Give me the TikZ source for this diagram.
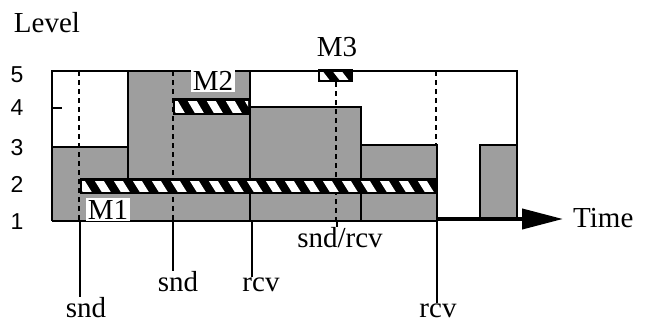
\documentclass[tikz,border=0pt]{standalone}
\usepackage{fontspec}
\setmainfont{Liberation Serif}
\newfontfamily\digfont{Liberation Sans}
\usetikzlibrary{arrows.meta}
\definecolor{stip}{gray}{0.62}
\newcommand{\stripebar}[4]{%
  \fill[black] (#1,#2) rectangle (#3,#4);
  \begin{scope}
    \clip (#1+2,#2+3) rectangle (#3-2,#4-3);
    \foreach \i in {0,...,20}{
      \fill[white] ({#1-6+\i*19},#2) -- ({#1+3+\i*19},#2) -- ({#1+13+\i*19},#4) -- ({#1+4+\i*19},#4) -- cycle;
    }
  \end{scope}}
\begin{document}
\begin{tikzpicture}[x=1pt,y=-1pt,
  outline/.style={line width=1.8pt},
  dashline/.style={line width=1.3pt,dash pattern=on 5pt off 4pt},
  lbl/.style={font=\fontsize{29}{32}\selectfont,inner sep=0pt,anchor=base},
  lev/.style={font=\digfont\fontsize{23}{25}\selectfont,inner sep=0pt,anchor=base},
  stipple/.style={fill=stip}]
\useasboundingbox (0,0) rectangle (648,324);

% shaded regions
\fill[stipple] (52,147) rectangle (128,221);
\fill[stipple] (128,71) rectangle (250,221);
\fill[stipple] (250,107) rectangle (361,221);
\fill[stipple] (361,145) rectangle (437,221);
\fill[stipple] (480,145) rectangle (517,221);

% dashed event lines
\draw[dashline] (79,71) -- (79,221);
\draw[dashline] (173,71) -- (173,221);
\draw[dashline] (336,82) -- (336,221);
\draw[dashline] (436,71) -- (436,145);

% outlines
\draw[outline] (52,221) -- (52,71) -- (517,71) -- (517,221);
\draw[outline] (52,221) -- (437,221);
\draw[outline] (52,147) -- (128,147);
\draw[outline] (52,108) -- (62,108);
\draw[outline] (128,71) -- (128,178);
\draw[outline] (250,71) -- (250,221);
\draw[outline] (250,107) -- (361,107) -- (361,221);
\draw[outline] (361,145) -- (437,145) -- (437,221);
\draw[outline] (480,221) -- (480,145) -- (517,145);

% message bars
\stripebar{80}{178}{437}{194}
\stripebar{173}{98}{250}{115}
\stripebar{318}{69}{353}{82}

% time axis
\coordinate (ax0) at (437,219);
\coordinate (ax1) at (563,219);
\draw[line width=4pt,-{Triangle[length=41pt,width=20pt]}] (ax0) -- (ax1);
\node[lbl,anchor=base west] (time) at (573,227) {Time};

% labels
\node[lbl] (level) at (47,32) {Level};
\node[lev] (l5) at (17,82) {5};
\node[lev] (l4) at (17,115) {4};
\node[lev] (l3) at (17,155) {3};
\node[lev] (l2) at (17,192) {2};
\node[lev] (l1) at (17,229) {1};

\node[lbl,fill=white,inner sep=1.5pt] (m2) at (213,90) {M2};
\node[lbl] (m3) at (337,56) {M3};
\node[lbl,fill=white,inner sep=1.5pt] (m1) at (108,219) {M1};

% event ticks and labels
\node[lbl] (snd1) at (86,317) {snd};
\node[lbl] (snd2) at (178,291) {snd};
\node[lbl] (rcv1) at (261,291) {rcv};
\node[lbl] (sr) at (340,247) {snd/rcv};
\node[lbl] (rcv2) at (438,317) {rcv};
\coordinate (t1) at (80,221);
\coordinate (t2) at (173,221);
\coordinate (t3) at (252,221);
\coordinate (t4) at (337,221);
\coordinate (t5) at (437,221);
\draw[outline] (t1) -- (t1 |- snd1.north);
\draw[outline] (t2) -- (t2 |- snd2.north);
\draw[outline] (t3) -- (t3 |- rcv1.north);
\draw[outline] (t4) -- (t4 |- sr.north);
\draw[outline] (t5) -- (t5 |- rcv2.north);
\end{tikzpicture}
\end{document}
